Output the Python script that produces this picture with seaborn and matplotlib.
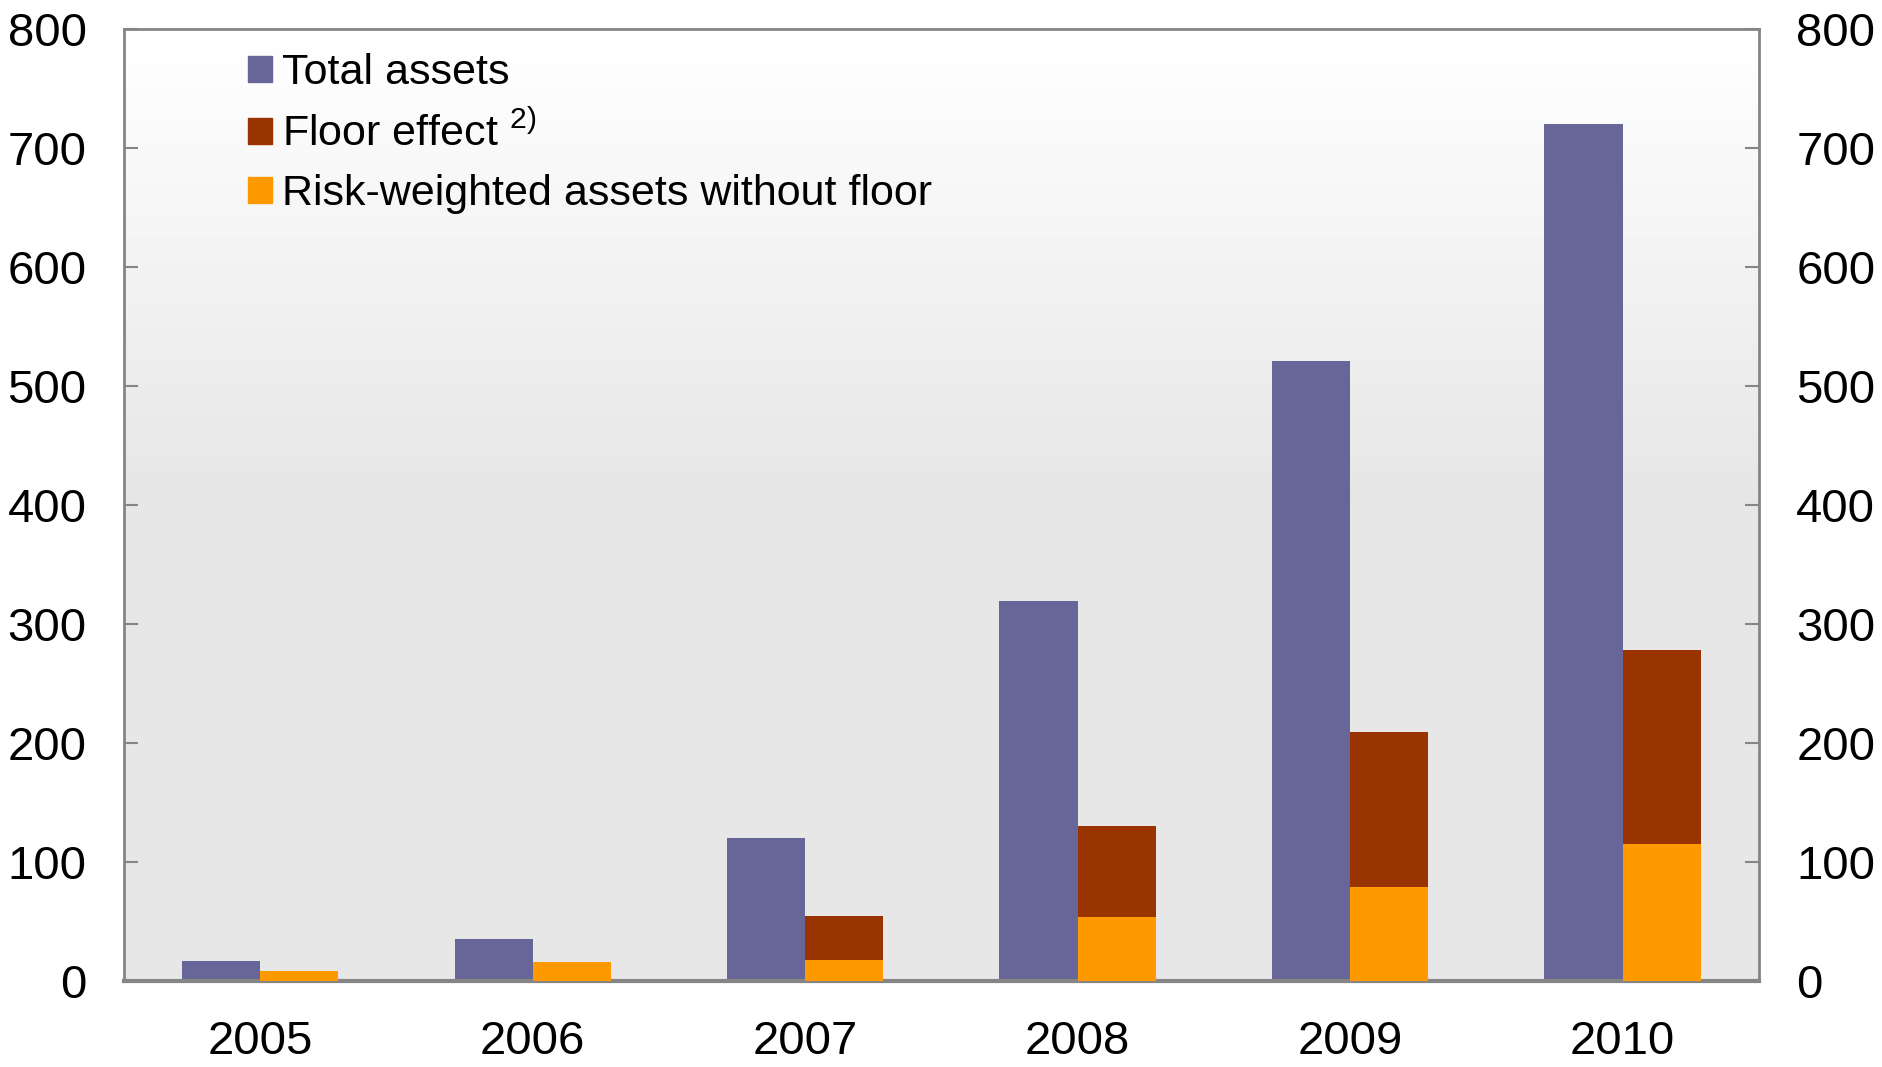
import numpy as np
import pandas as pd
import matplotlib.pyplot as plt
import seaborn as sns
from matplotlib.patches import Patch

years = ['2005', '2006', '2007', '2008', '2009', '2010']
total_assets = [17, 35, 120, 319, 521, 720]
floor_effect = [0, 0, 37, 76, 130, 163]
rwa_no_floor = [8, 16, 18, 54, 79, 115]

c_total = '#666699'
c_floor = '#993300'
c_rwa = '#FF9900'
c_axis = '#858585'

sns.set_style('white')
plt.rcParams['font.family'] = ['Liberation Sans', 'DejaVu Sans']
plt.rcParams['mathtext.default'] = 'regular'
plt.rcParams['text.color'] = 'black'
plt.rcParams['xtick.labelcolor'] = 'black'
plt.rcParams['ytick.labelcolor'] = 'black'

stack_top = [f + r for f, r in zip(floor_effect, rwa_no_floor)]
df = pd.DataFrame({
    'Year': years * 2,
    'Value': total_assets + stack_top,
    'Series': ['Total assets'] * 6 + ['Stack'] * 6,
})

fig = plt.figure(figsize=(18.83, 10.67), dpi=100)
ax = fig.add_axes([0.0659, 0.0806, 0.8681, 0.8925])

# gradient background
grad = np.concatenate([np.linspace(1.0, 0.9, 50), np.full(50, 0.905)])[:, None]
ax.imshow(grad, extent=[-0.5, 5.5, 0, 800], aspect='auto', cmap='gray',
          vmin=0, vmax=1, zorder=0)

sns.barplot(data=df, x='Year', y='Value', hue='Series',
            palette=[c_total, c_floor], width=0.574, dodge=True,
            saturation=1, legend=False, linewidth=0, ax=ax, zorder=2)

# risk-weighted part at the bottom of the stacked bar
for p, r in zip(ax.containers[1], rwa_no_floor):
    ax.bar(p.get_x(), r, width=p.get_width(), align='edge', color=c_rwa,
           linewidth=0, zorder=3)

ax.set_xlim(-0.5, 5.5)
ax.set_ylim(0, 800)
ax.set_yticks(range(0, 801, 100))
ax.set_xlabel('')
ax.set_ylabel('')

for s in ax.spines.values():
    s.set_color(c_axis)
    s.set_linewidth(2)
ax.spines['bottom'].set_linewidth(3)

ax.tick_params(axis='y', which='both', direction='in', length=10, width=1.5,
               color=c_axis, labelsize=34, pad=27, left=True, right=True,
               labelleft=True, labelright=True)
ax.set_xticks(np.arange(0.5, 5.5, 1), minor=True)
ax.tick_params(axis='x', which='major', length=0, labelsize=34, pad=28)
ax.tick_params(axis='x', which='minor', direction='in', length=9, width=2,
               color=c_axis)

handles = [Patch(color=c_total), Patch(color=c_floor), Patch(color=c_rwa)]
labels = ['Total assets', 'Floor effect $^{2)}$', 'Risk-weighted assets without floor']
ax.legend(handles, labels, loc='upper left', bbox_to_anchor=(0.052, 1.015),
          frameon=False, fontsize=31, handlelength=0.55, handleheight=0.55,
          handletextpad=0.25, labelspacing=0.45)

fig.savefig('out.png', dpi=100)
